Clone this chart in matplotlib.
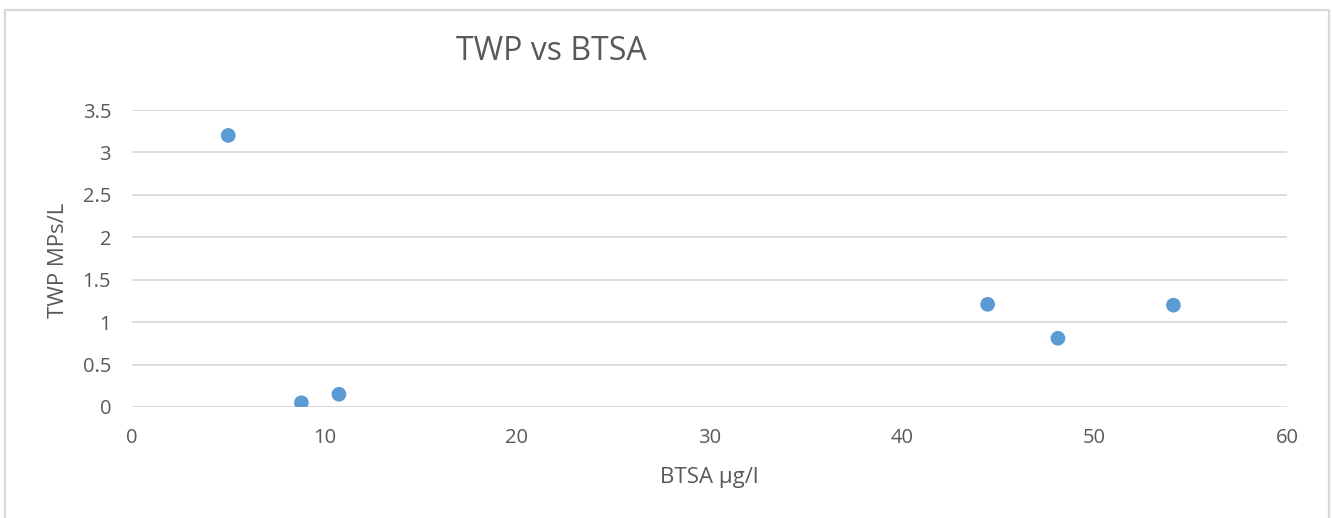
import matplotlib
matplotlib.use("Agg")
import matplotlib.pyplot as plt
from matplotlib.patches import Rectangle

# BTSA concentration (µg/l) against TWP microplastic count (MPs/L)
btsa = [5.0, 8.8, 10.75, 44.45, 48.1, 54.1]
twp = [3.2, 0.05, 0.15, 1.21, 0.81, 1.2]

x_ticks = [0, 10, 20, 30, 40, 50, 60]
y_ticks = [0, 0.5, 1, 1.5, 2, 2.5, 3, 3.5]
y_tick_labels = ["0", "0.5", "1", "1.5", "2", "2.5", "3", "3.5"]

title = "TWP vs BTSA"
x_label = "BTSA µg/l"
y_label = "TWP MPs/L"

text_color = "#595959"
grid_color = "#d9d9d9"
point_color = "#5b9bd5"

plt.rcParams["font.family"] = ["Open Sans", "DejaVu Sans"]

W, H = 1333, 518
fig = plt.figure(figsize=(W / 100, H / 100), dpi=100)
ax = fig.add_axes([132 / W, 1 - 407 / H, (1287 - 132) / W, (407 - 110) / H])

# light frame around the chart
fig.patches.append(Rectangle((5 / W, -0.02), (1329 - 5) / W, 1.02 - 10 / H,
                             transform=fig.transFigure, fill=False,
                             edgecolor=grid_color, linewidth=1.6))

ax.scatter(btsa, twp, s=112, color=point_color, edgecolors="none", zorder=3)

ax.set_xlim(0, 60)
ax.set_ylim(0, 3.5)
ax.set_xticks(x_ticks)
ax.set_xticklabels([str(t) for t in x_ticks])
ax.set_yticks(y_ticks)
ax.set_yticklabels(y_tick_labels)

ax.grid(axis="y", color=grid_color, linewidth=1.3)
ax.grid(axis="x", visible=False)
ax.set_axisbelow(True)
for s in ax.spines.values():
    s.set_visible(False)
ax.tick_params(axis="both", length=0, labelsize=14.5, colors=text_color)
ax.tick_params(axis="y", pad=15)
ax.tick_params(axis="x", pad=15)

fig.text(551 / W, 1 - 51 / H, title, ha="center", va="center",
         fontsize=23, color=text_color)
fig.text(709 / W, 1 - 478 / H, x_label, ha="center", va="center",
         fontsize=16, color=text_color)
fig.text(58 / W, 1 - 260 / H, y_label, ha="center", va="center",
         rotation=90, fontsize=16, color=text_color)

fig.savefig("out.png", dpi=100)
